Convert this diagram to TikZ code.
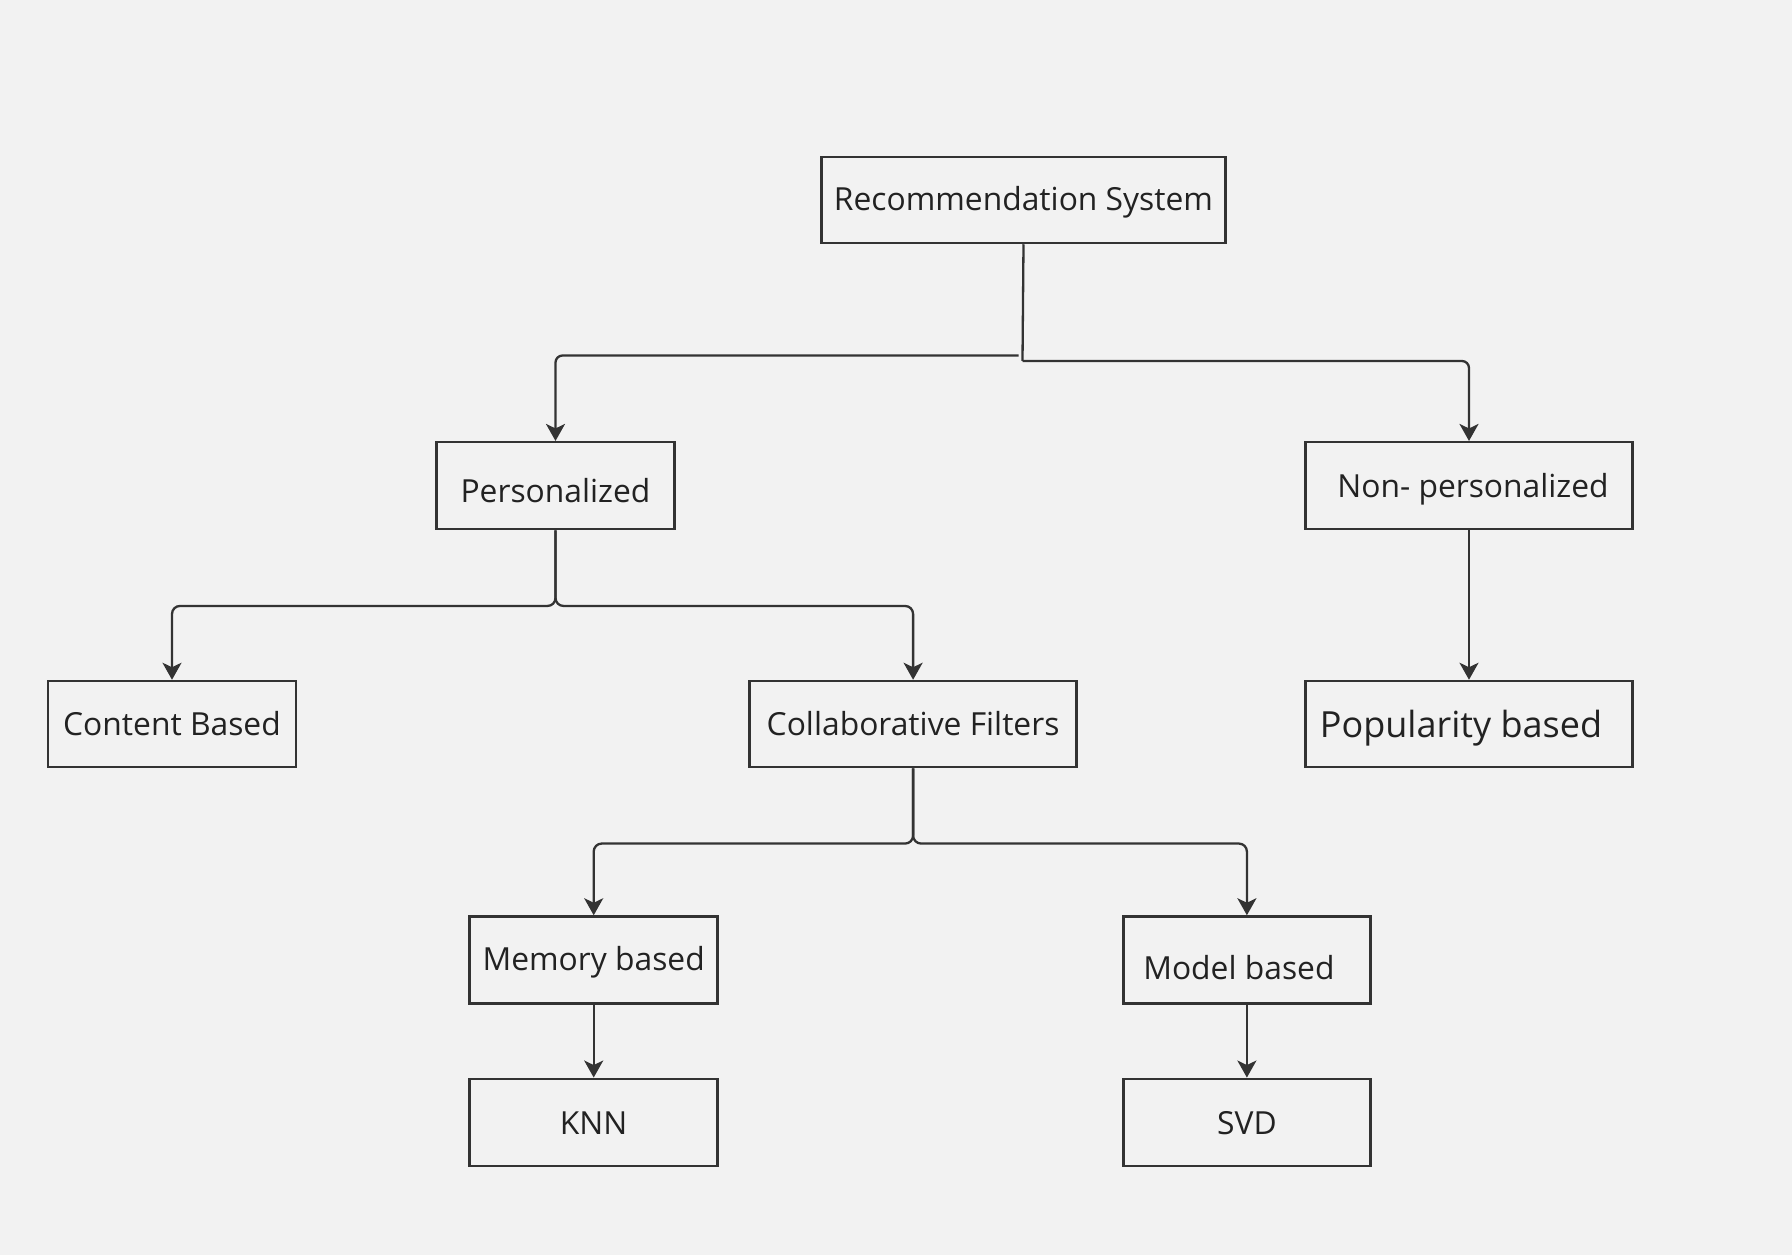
\documentclass[tikz,border=0pt]{standalone}
\usepackage{fontspec}
\setmainfont{Open Sans}
\usetikzlibrary{arrows.meta,calc}
\definecolor{bg}{HTML}{F2F2F2}
\definecolor{ln}{HTML}{333333}
\definecolor{tx}{HTML}{222222}
\newcommand{\dnshift}[2]{\raisebox{-#1}[\height][\depth]{#2}}
\begin{document}
\begin{tikzpicture}[x=1pt,y=-1pt,
  box/.style={draw=ln,line width=2.5pt,fill=bg,rectangle,inner sep=0pt,
    text=tx,font=\fontsize{31.8}{36}\selectfont},
  conn/.style={draw=ln,line width=2.3pt,-{Stealth[length=17pt,width=19pt,inset=4.5pt]}},
  plain/.style={draw=ln,line width=2.3pt}]
\fill[bg] (0,0) rectangle (1792,1255);
\useasboundingbox (0,0) rectangle (1792,1255);

\node[box,minimum width=404pt,minimum height=86pt] (rs) at (1023.5,200) {\dnshift{2pt}{Recommendation System}};
\node[box,minimum width=238pt,minimum height=87pt] (pers) at (555.5,485.7) {\dnshift{4.5pt}{Personalized}};
\node[box,minimum width=327pt,minimum height=87pt] (np) at (1469,485.7) {\hspace*{8pt}\dnshift{4pt}{Non- personalized}};
\node[box,minimum width=248pt,minimum height=86pt] (cb) at (172,724) {Content Based};
\node[box,minimum width=327pt,minimum height=86pt] (cf) at (913.1,724) {Collaborative Filters};
\node[box,minimum width=327pt,minimum height=86pt,font=\fontsize{36}{42}\selectfont] (pop) at (1469,724) {\dnshift{4.5pt}{Popularity based}\hspace*{16pt}};
\node[box,minimum width=248pt,minimum height=87pt] (mem) at (593.7,960) {\dnshift{2pt}{Memory based}};
\node[box,minimum width=247pt,minimum height=87pt] (mod) at (1246.9,960) {\dnshift{8pt}{Model based}\hspace*{16pt}};
\node[box,minimum width=248pt,minimum height=87pt] (knn) at (593.7,1122.3) {\dnshift{1pt}{KNN}};
\node[box,minimum width=247pt,minimum height=87pt] (svd) at (1246.9,1122.3) {\dnshift{1pt}{SVD}};

% root split
\coordinate (jr) at (1022.5,361);
\coordinate (jl) at (1018.5,355.5);
\draw[plain] (rs.south) -- (jr);
\draw[conn,rounded corners=7pt] (jr) -| (np.north);
\draw[conn,rounded corners=7pt] (jl) -| (pers.north);

% personalized split
\coordinate (jp) at ($(pers.south)+(0,75.5)$);
\draw[conn,rounded corners=8pt] (pers.south) -- (jp) -| (cb.north);
\draw[conn,rounded corners=8pt] (pers.south) -- (jp) -| (cf.north);

% non-personalized
\draw[conn] (np.south) -- (pop.north);

% collaborative split
\coordinate (jc) at ($(cf.south)+(0,75.3)$);
\draw[conn,rounded corners=8pt] (cf.south) -- (jc) -| (mem.north);
\draw[conn,rounded corners=8pt] (cf.south) -- (jc) -| (mod.north);

\draw[conn] (mem.south) -- (knn.north);
\draw[conn] (mod.south) -- (svd.north);
\end{tikzpicture}
\end{document}
